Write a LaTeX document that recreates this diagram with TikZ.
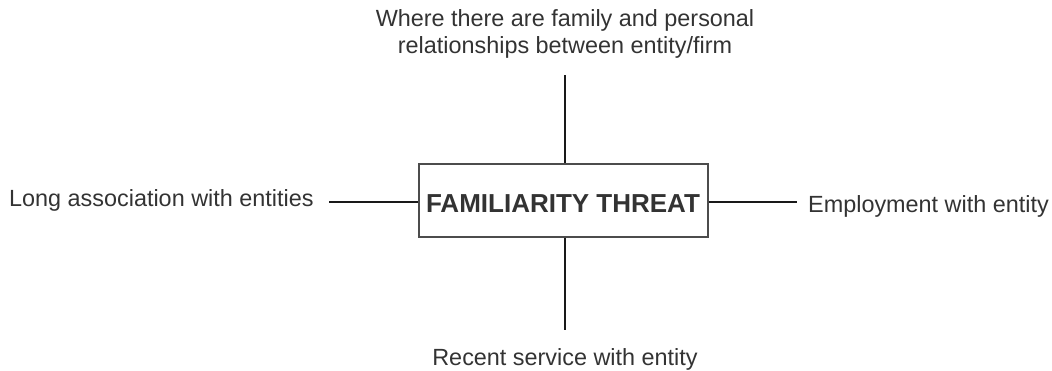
\documentclass[tikz,border=0pt]{standalone}
\usepackage{fontspec}
\setmainfont{Liberation Sans}
\begin{document}
\begin{tikzpicture}[x=1pt,y=-1pt,
  label text/.style={inner sep=0pt, text=black!80, font=\fontsize{23.4}{27}\selectfont},
  threat box/.style={draw=black!70, line width=1.6pt, fill=white,
    minimum width=289pt, minimum height=73pt, inner sep=0pt},
  link/.style={line width=1.6pt, black!90}]
  \useasboundingbox (0,0) rectangle (1052,370);

  % central box and its title
  \node[threat box] (threat) at (563.5,200.5) {};
  \node[label text, font=\fontsize{26}{30}\selectfont\bfseries, anchor=base] (title) at (563,212) {FAMILIARITY THREAT};

  % surrounding labels
  \node[label text, anchor=base, align=center] (top) at (565,53)
    {Where there are family and personal\\relationships between entity/firm};
  \node[label text, anchor=base west] (left) at (9,206) {Long association with entities};
  \node[label text, anchor=base west] (right) at (808,212) {Employment with entity};
  \node[label text, anchor=base] (bottom) at (565,365) {Recent service with entity};

  % free ends of the connectors
  \coordinate (topend) at (565,75);
  \coordinate (leftend) at (329,202);
  \coordinate (rightend) at (797,202);
  \coordinate (bottomend) at (565,330);

  \draw[link] (threat.north -| topend) -- (topend);
  \draw[link] (threat.west |- leftend) -- (leftend);
  \draw[link] (threat.east |- rightend) -- (rightend);
  \draw[link] (threat.south -| bottomend) -- (bottomend);
\end{tikzpicture}
\end{document}
